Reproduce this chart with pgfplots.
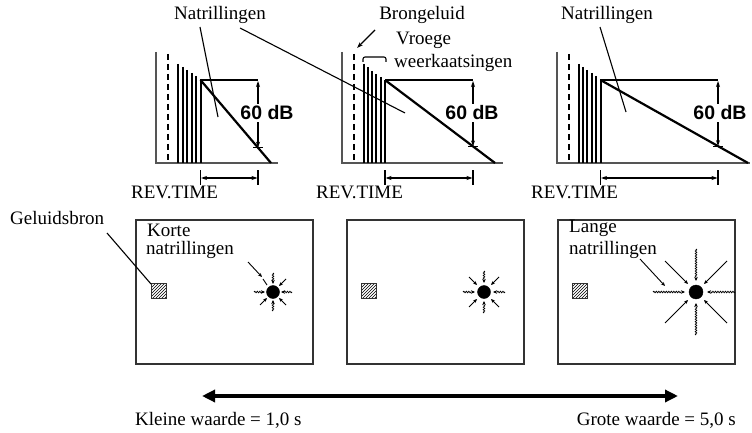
\documentclass[border=0pt]{standalone}
\usepackage{pgfplots}
\pgfplotsset{compat=1.18}
\usepackage{fontspec}
\setmainfont{Liberation Serif}
\newfontfamily\sansb{Liberation Sans}
\usetikzlibrary{arrows.meta,patterns,decorations.pathmorphing}
\definecolor{axc}{HTML}{555555}
\definecolor{bxc}{HTML}{333333}
\tikzset{
  axl/.style={line width=1.8pt, color=axc},
  dsh/.style={line width=2pt, black, dash pattern=on 6pt off 4pt},
  bar/.style={line width=2pt, black},
  dec/.style={line width=2.2pt, black},
  thin/.style={line width=1.1pt, black},
  dar/.style={line width=1.1pt, black, {Stealth[length=6pt,width=4pt]}-{Stealth[length=6pt,width=4pt]}},
  sar/.style={line width=1.1pt, black, -{Stealth[length=6pt,width=4pt]}},
  box/.style={line width=2.6pt, color=bxc},
  wray/.style={line width=0.8pt, black, decorate, decoration={snake, amplitude=0.7pt, segment length=2.5pt, post length=3pt}, -{Stealth[length=4pt,width=3.5pt]}},
  sray/.style={line width=0.9pt, black, -{Stealth[length=4pt,width=3.5pt]}},
  lbl/.style={font=\fontsize{19}{22}\selectfont, inner sep=0pt},
  db/.style={font=\sansb\bfseries\fontsize{19.5}{22}\selectfont, inner sep=2pt, fill=white},
}
\begin{document}
\begin{tikzpicture}
\begin{axis}[width=752pt,height=433pt,scale only axis,
  xmin=0,xmax=752,ymin=0,ymax=433,y dir=reverse,
  hide axis,clip=false]
% ---------- Panel 1 ----------
\addplot[axl] coordinates {(156,52)(156,163)(278,163)};
\addplot[dsh] coordinates {(168,54)(168,163)};
\addplot[bar] coordinates {(178,64)(178,163)};
\addplot[bar] coordinates {(182.5,67)(182.5,163)};
\addplot[bar] coordinates {(187,70)(187,163)};
\addplot[bar] coordinates {(191.5,73)(191.5,163)};
\addplot[bar] coordinates {(196,76)(196,163)};
\addplot[bar] coordinates {(200.5,79)(200.5,163)};
\addplot[dec] coordinates {(200.5,80)(271,163)};
\addplot[thin] coordinates {(200.5,80)(258,80)};
\addplot[dar] coordinates {(258,81)(258,147.7)};
\addplot[thin] coordinates {(253,147.7)(263,147.7)};
\addplot[thin] coordinates {(200.5,170)(200.5,185)};
\addplot[thin] coordinates {(258,170)(258,185)};
\addplot[dar] coordinates {(201,178)(257.5,178)};
\node[db] at (axis cs:267,113) {60 dB};
% ---------- Panel 2 ----------
\addplot[axl] coordinates {(342,52)(342,163)(503,163)};
\addplot[dsh] coordinates {(354,54)(354,163)};
\addplot[bar] coordinates {(363.5,64)(363.5,163)};
\addplot[bar] coordinates {(367.8,67.5)(367.8,163)};
\addplot[bar] coordinates {(372,71)(372,163)};
\addplot[bar] coordinates {(376.3,74)(376.3,163)};
\addplot[bar] coordinates {(380.7,77)(380.7,163)};
\addplot[bar] coordinates {(385,80)(385,163)};
\addplot[dec] coordinates {(385,80)(495,163)};
\addplot[thin] coordinates {(385,80)(473,80)};
\addplot[dar] coordinates {(473,81)(473,146.4)};
\addplot[thin] coordinates {(468,146.4)(478,146.4)};
\addplot[thin] coordinates {(385,170)(385,185)};
\addplot[thin] coordinates {(473,170)(473,185)};
\addplot[dar] coordinates {(385.5,178)(472.5,178)};
\node[db] at (axis cs:472,113) {60 dB};
\addplot[thin, rounded corners=2pt] coordinates {(363,62)(363,57)(386,57)(386,62)};
% ---------- Panel 3 ----------
\addplot[axl] coordinates {(557,52)(557,163)(750,163)};
\addplot[dsh] coordinates {(569,54)(569,163)};
\addplot[bar] coordinates {(578.5,64)(578.5,163)};
\addplot[bar] coordinates {(583,67)(583,163)};
\addplot[bar] coordinates {(587.3,70)(587.3,163)};
\addplot[bar] coordinates {(591.6,73)(591.6,163)};
\addplot[bar] coordinates {(596,76)(596,163)};
\addplot[bar] coordinates {(600.5,79.5)(600.5,163)};
\addplot[dec] coordinates {(600.5,80)(748,163)};
\addplot[thin] coordinates {(600.5,80)(718,80)};
\addplot[dar] coordinates {(718,81)(718,146.1)};
\addplot[thin] coordinates {(713,146.1)(723,146.1)};
\addplot[thin] coordinates {(600.5,170)(600.5,185)};
\addplot[thin] coordinates {(718,170)(718,185)};
\addplot[dar] coordinates {(601,178)(717.5,178)};
\node[db] at (axis cs:720,113) {60 dB};
% ---------- leaders and top labels ----------
\addplot[thin] coordinates {(200,27)(218,117)};
\addplot[thin] coordinates {(240,28)(405,113)};
\addplot[thin] coordinates {(600,27)(626,112)};
\addplot[sar] coordinates {(375,30)(357,48)};
\node[lbl] at (axis cs:220,15) {Natrillingen};
\node[lbl] at (axis cs:422,15) {Brongeluid};
\node[lbl] at (axis cs:607,15) {Natrillingen};
\node[lbl,anchor=west] at (axis cs:396,40) {Vroege};
\node[lbl,anchor=west] at (axis cs:394,63) {weerkaatsingen};
\node[lbl,anchor=west] at (axis cs:131,192) {REV.TIME};
\node[lbl,anchor=west] at (axis cs:316,192) {REV.TIME};
\node[lbl,anchor=west] at (axis cs:531,192) {REV.TIME};
% ---------- rooms ----------
\addplot[box] coordinates {(136,220)(313,220)(313,364)(136,364)} -- cycle;
\addplot[box] coordinates {(347,220)(524,220)(524,364)(347,364)} -- cycle;
\addplot[box] coordinates {(558,220)(735,220)(735,364)(558,364)} -- cycle;
\addplot[line width=1pt, draw=bxc, pattern=north east lines] coordinates {(151,283)(166,283)(166,298)(151,298)} -- cycle;
\addplot[line width=1pt, draw=bxc, pattern=north east lines] coordinates {(361,283)(376,283)(376,298)(361,298)} -- cycle;
\addplot[line width=1pt, draw=bxc, pattern=north east lines] coordinates {(572,283)(587,283)(587,298)(572,298)} -- cycle;
\node[lbl,anchor=west] at (axis cs:10,218) {Geluidsbron};
\addplot[thin] coordinates {(107,233)(151,284)};
\node[lbl,anchor=west] at (axis cs:147,230) {Korte};
\node[lbl,anchor=west] at (axis cs:146,250) {natrillingen};
\node[lbl,anchor=west] at (axis cs:569,228) {Lange};
\node[lbl,anchor=west] at (axis cs:569,250) {natrillingen};
% sun 1
\addplot[only marks, mark=*, mark size=6.5pt, black] coordinates {(273,292)};
\addplot[wray] coordinates {(254,292)(265,292)};
\addplot[wray] coordinates {(292,292)(281,292)};
\addplot[wray] coordinates {(273,273)(273,284)};
\addplot[wray] coordinates {(273,311)(273,300)};
\addplot[sray] coordinates {(286,279)(279,286)};
\addplot[sray] coordinates {(260,305)(267,298)};
\addplot[sray] coordinates {(286,305)(279,298)};
\addplot[sray] coordinates {(248,262)(262,277)};
\addplot[line width=0.9pt, black] coordinates {(263,279)(267,285)};
% sun 2
\addplot[only marks, mark=*, mark size=6.5pt, black] coordinates {(484,292)};
\addplot[wray] coordinates {(463,292)(475,292)};
\addplot[wray] coordinates {(505,292)(493,292)};
\addplot[wray] coordinates {(484,271)(484,283)};
\addplot[wray] coordinates {(484,313)(484,301)};
\addplot[sray] coordinates {(469,277)(477,285)};
\addplot[sray] coordinates {(499,277)(491,285)};
\addplot[sray] coordinates {(469,307)(477,299)};
\addplot[sray] coordinates {(499,307)(491,299)};
% sun 3
\addplot[only marks, mark=*, mark size=7pt, black] coordinates {(696,292)};
\addplot[wray] coordinates {(653,292)(685,292)};
\addplot[wray] coordinates {(735,292)(707,292)};
\addplot[wray] coordinates {(696,249)(696,281)};
\addplot[wray] coordinates {(696,335)(696,303)};
\addplot[sray] coordinates {(665,261)(688,284)};
\addplot[sray] coordinates {(727,261)(704,284)};
\addplot[sray] coordinates {(665,323)(688,300)};
\addplot[sray] coordinates {(727,323)(704,300)};
\addplot[sray] coordinates {(640,259)(665,286)};
% ---------- bottom scale ----------
\addplot[line width=4pt, black, {Triangle[length=13pt,width=12pt]}-{Triangle[length=13pt,width=12pt]}] coordinates {(202,396)(678,396)};
\node[lbl,anchor=west] at (axis cs:135,420) {Kleine waarde = 1,0 s};
\node[lbl,anchor=east] at (axis cs:736,420) {Grote waarde = 5,0 s};
\end{axis}
\pgfresetboundingbox
\path (current axis.south west) rectangle (current axis.north east);
\end{tikzpicture}
\end{document}
